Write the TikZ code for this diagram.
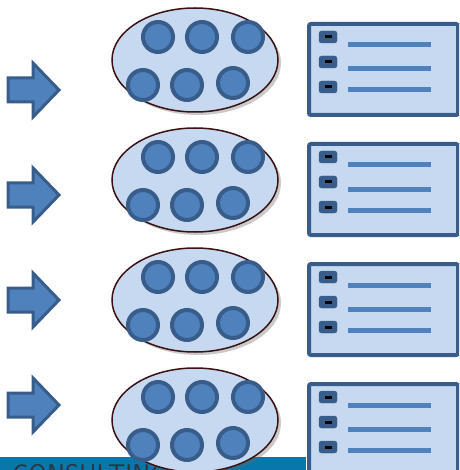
\documentclass[tikz,border=0pt]{standalone}
\usepackage{xcolor}
\usepackage{tikz}
\usetikzlibrary{positioning,shapes.geometric,shadows}

\definecolor{paleblue}{HTML}{C6D9F1}
\definecolor{midblue}{HTML}{4F81BD}
\definecolor{darkblue}{HTML}{385D8A}
\definecolor{bandteal}{HTML}{0878AC}
\definecolor{rimbrown}{HTML}{3A1212}
\definecolor{brandgray}{HTML}{2B3440}

\tikzset{
  group/.style={ellipse, draw=rimbrown, line width=1.5pt, fill=paleblue, minimum width=166pt, minimum height=104pt, inner sep=0pt,
    drop shadow={shadow xshift=3pt, shadow yshift=-3pt, opacity=0.35, fill=black!60}},
  member/.style={circle, draw=darkblue, line width=4pt, fill=midblue, minimum size=30pt, inner sep=0pt},
  form/.style={draw=darkblue, line width=4pt, fill=paleblue, rounded corners=2pt, minimum width=149pt, minimum height=91pt, inner sep=0pt, anchor=north west},
  tick/.style={draw=darkblue, fill=darkblue, rounded corners=2.5pt, minimum width=18pt, minimum height=12pt, inner sep=0pt},
  entry/.style={draw=midblue, line width=5pt},
  pointer/.style={draw=darkblue, line width=3pt, fill=midblue, line join=miter}
}

\begin{document}
\begin{tikzpicture}[x=1pt,y=-1pt]
\useasboundingbox (0,0) rectangle (459,470);
\begin{scope}
\clip (0,0) rectangle (459,470);
% band at the bottom
\fill[bandteal] (0,457) rectangle (306,472);
\node[anchor=north west, inner sep=0pt, text=brandgray, font=\fontsize{27}{30}\selectfont\sffamily] (brand) at (12,464) {CONSULTING};

\foreach \k in {0,1,2,3} {
  % arrow
  \draw[pointer] (8,{90+105*\k-12}) -- (33,{90+105*\k-12}) -- (33,{90+105*\k-27}) -- (59,{90+105*\k})
    -- (33,{90+105*\k+27}) -- (33,{90+105*\k+12}) -- (8,{90+105*\k+12}) -- cycle;
  % group of members
  \node[group] (grp\k) at (195,{60+120*\k}) {};
  \node[member] at ([shift={(-37,-23)}]grp\k.center) {};
  \node[member] at ([shift={(7,-23)}]grp\k.center) {};
  \node[member] at ([shift={(53,-23)}]grp\k.center) {};
  \node[member] at ([shift={(-52,25)}]grp\k.center) {};
  \node[member] at ([shift={(-8,25)}]grp\k.center) {};
  \node[member] at ([shift={(38,23)}]grp\k.center) {};
  % form
  \node[form] (sheet\k) at (307,{22+120*\k}) {};
  \foreach \r/\b/\l in {0/17/25, 1/42/49, 2/67/70} {
    \node[tick] (tk\k\r) at (328,{20+120*\k+\b}) {};
    \draw[black, line width=3pt] ([xshift=-3.5pt]tk\k\r.center) -- ([xshift=3.5pt]tk\k\r.center);
    \draw[entry] (348,{20+120*\k+\l}) -- (431,{20+120*\k+\l});
  }
}
\end{scope}
\end{tikzpicture}
\end{document}
